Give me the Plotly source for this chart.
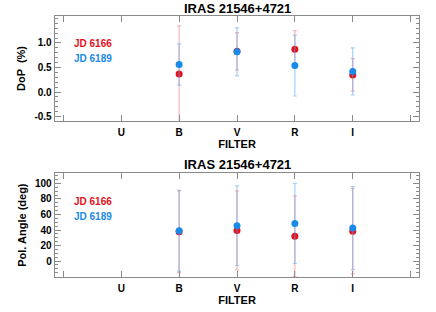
import plotly.graph_objects as go

# categories (blank categories give the outer tick marks)
categories = [" ", "U", "B", "V", "R", "I", "  "]
filters = ["B", "V", "R", "I"]

# Degree of polarization (%)
dop_6166 = [0.37, 0.83, 0.87, 0.35]
dop_err_6166 = [0.98, 0.38, 0.38, 0.33]
dop_6189 = [0.56, 0.82, 0.54, 0.42]
dop_err_6189 = [0.42, 0.49, 0.62, 0.48]

# Polarization angle (deg)
pa_6166 = [37.7, 39.5, 32.0, 38.5]
pa_err_6166 = [52.7, 51.0, 52.0, 55.0]
pa_6189 = [39.0, 45.5, 48.5, 42.5]
pa_err_6189 = [52.0, 51.3, 51.7, 53.5]

title = "IRAS 21546+4721"
series_names = ["JD 6166", "JD 6189"]

RED = "#e3121c"
BLUE = "#1a8ae6"
RED_ERR = "rgba(240,90,100,0.45)"
BLUE_ERR = "rgba(90,170,240,0.55)"
FONT = "Liberation Sans, Arial, sans-serif"

W, H = 436, 312

fig = go.Figure()

def add_pair(xa, ya, y1, e1, y2, e2):
    fig.add_trace(go.Scatter(
        x=filters, y=y1, mode="markers", xaxis=xa, yaxis=ya,
        marker=dict(color=RED, size=7),
        error_y=dict(type="data", array=e1, visible=True, color=RED_ERR, thickness=1.2, width=2),
        showlegend=False, cliponaxis=True))
    fig.add_trace(go.Scatter(
        x=filters, y=y2, mode="markers", xaxis=xa, yaxis=ya,
        marker=dict(color=BLUE, size=7),
        error_y=dict(type="data", array=e2, visible=True, color=BLUE_ERR, thickness=1.2, width=2),
        showlegend=False, cliponaxis=True))

add_pair("x", "y", dop_6166, dop_err_6166, dop_6189, dop_err_6189)
add_pair("x2", "y2", pa_6166, pa_err_6166, pa_6189, pa_err_6189)

x_dom = [54.7 / W, 419.3 / W]
top_dom = [1 - 121 / H, 1 - 16 / H]
bot_dom = [1 - 277.3 / H, 1 - 173 / H]

axis_common = dict(
    showline=True, linecolor="#8a8a8a", linewidth=1, mirror="ticks",
    ticks="inside", tickcolor="#8a8a8a", ticklen=6, tickwidth=1,
    showgrid=False, zeroline=False, automargin=False,
    tickfont=dict(family=FONT, size=10, color="black", weight="bold"),
)

xcommon = dict(axis_common, type="category", categoryorder="array",
               categoryarray=categories, range=[-0.15, 6.15], tickangle=0,
               ticklabelstandoff=2,
               title=dict(text="FILTER", font=dict(family=FONT, size=11, color="black", weight="bold"),
                          standoff=0))

fig.update_layout(
    width=W, height=H,
    margin=dict(l=0, r=0, t=0, b=0),
    paper_bgcolor="white", plot_bgcolor="white",
    xaxis=dict(xcommon, domain=x_dom, anchor="y"),
    xaxis2=dict(xcommon, domain=x_dom, anchor="y2"),
    yaxis=dict(axis_common, domain=top_dom, anchor="x", range=[-0.59, 1.55],
               tickvals=[-0.5, 0.0, 0.5, 1.0], ticktext=["-0.5", "0.0", "0.5", "1.0"],
               minor=dict(ticks="inside", dtick=0.1, ticklen=3, tickcolor="#8a8a8a"),
               title=dict(text="DoP  (%)", font=dict(family=FONT, size=11, color="black", weight="bold"),
                          standoff=6)),
    yaxis2=dict(axis_common, domain=bot_dom, anchor="x2", range=[-21, 113.5],
                tickvals=[0, 20, 40, 60, 80, 100],
                minor=dict(ticks="inside", dtick=5, ticklen=3, tickcolor="#8a8a8a"),
                title=dict(text="Pol. Angle (deg)", font=dict(family=FONT, size=11, color="black", weight="bold"),
                           standoff=6)),
)

annos = []
for yc in (8, 164.5):
    annos.append(dict(text=title, x=237 / W, y=1 - yc / H, xref="paper", yref="paper",
                      xanchor="center", yanchor="middle", showarrow=False,
                      font=dict(family=FONT, size=13, color="black", weight="bold")))
for (y1, y2) in ((43.7, 58.7), (201.5, 216)):
    annos.append(dict(text=series_names[0], x=72 / W, y=1 - y1 / H, xref="paper", yref="paper",
                      xanchor="left", yanchor="middle", showarrow=False,
                      font=dict(family=FONT, size=10, color=RED, weight="bold")))
    annos.append(dict(text=series_names[1], x=72 / W, y=1 - y2 / H, xref="paper", yref="paper",
                      xanchor="left", yanchor="middle", showarrow=False,
                      font=dict(family=FONT, size=10, color=BLUE, weight="bold")))
fig.update_layout(annotations=annos)

fig.write_html("out.html", config={"displayModeBar": False},
               post_script="document.body.style.margin='0';document.body.style.padding='0';")
